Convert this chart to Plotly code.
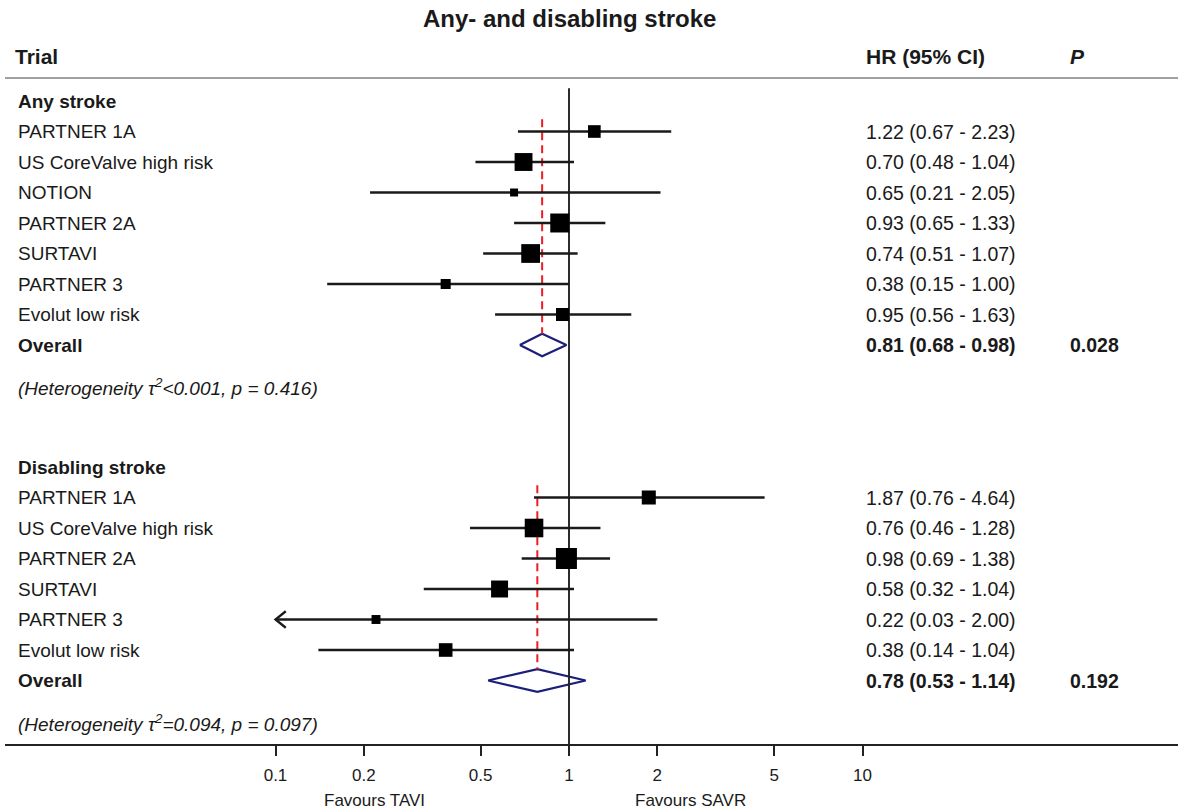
import math
import plotly.graph_objects as go

# ---------------- data ----------------
chart_title = "Any- and disabling stroke"

any_trials = ["PARTNER 1A", "US CoreValve high risk", "NOTION", "PARTNER 2A",
              "SURTAVI", "PARTNER 3", "Evolut low risk"]
any_hr = [1.22, 0.70, 0.65, 0.93, 0.74, 0.38, 0.95]
any_lo = [0.67, 0.48, 0.21, 0.65, 0.51, 0.15, 0.56]
any_hi = [2.23, 1.04, 2.05, 1.33, 1.07, 1.00, 1.63]
any_weight = [10.0, 20.0, 4.0, 22.5, 22.0, 6.3, 10.5]
any_overall = [0.81, 0.68, 0.98]
any_p = "0.028"
any_het = "(Heterogeneity τ<sup>2</sup>&lt;0.001, p = 0.416)"

dis_trials = ["PARTNER 1A", "US CoreValve high risk", "PARTNER 2A",
              "SURTAVI", "PARTNER 3", "Evolut low risk"]
dis_hr = [1.87, 0.76, 0.98, 0.58, 0.22, 0.38]
dis_lo = [0.76, 0.46, 0.69, 0.32, 0.03, 0.14]
dis_hi = [4.64, 1.28, 1.38, 1.04, 2.00, 1.04]
dis_weight = [12.3, 21.6, 27.6, 18.0, 5.0, 11.6]
dis_overall = [0.78, 0.53, 1.14]
dis_p = "0.192"
dis_het = "(Heterogeneity τ<sup>2</sup>=0.094, p = 0.097)"

sections = [
    ("Any stroke", any_trials, any_hr, any_lo, any_hi, any_weight, any_overall, any_p, any_het),
    ("Disabling stroke", dis_trials, dis_hr, dis_lo, dis_hi, dis_weight, dis_overall, dis_p, dis_het),
]

tick_vals = [0.1, 0.2, 0.5, 1, 2, 5, 10]
tick_text = ["0.1", "0.2", "0.5", "1", "2", "5", "10"]
left_label = "Favours TAVI"
right_label = "Favours SAVR"
col_headers = ["Trial", "HR (95% CI)", "<i>P</i>"]

# ---------------- style ----------------
FONT = "Liberation Sans, Arial, Helvetica, sans-serif"
TXT = "#1a1a1a"
LBL = 19
VAL = 19.5
HDR = 21
X_LABEL = 0.009
X_HR = 0.732
X_P = 0.906
CLIP_LO = 0.1
DIAMOND_H = 0.37
W, H = 1178, 811
ML, MB = 5, 66
plot_h = H - MB
row_px = 30.5
first_row_px = 101
y_top = -first_row_px / row_px
y_bot = (plot_h - first_row_px) / row_px
dec_px = 293.5
one_px = 569
x_range = [(ML - one_px) / dec_px, (W - one_px) / dec_px]

fig = go.Figure()
annotations = []
shapes = []

ci_x, ci_y = [], []
arrow_x, arrow_y = [], []
sq_x, sq_y, sq_s = [], [], []


def txt(x, y, text, size, xref="paper", yref="y", xanchor="left"):
    return dict(x=x, y=y, xref=xref, yref=yref, text=text, showarrow=False,
                xanchor=xanchor, yanchor="middle", font=dict(size=size, color=TXT))


row = 0
for (name, trials, hr, lo, hi, wt, ov, pval, het) in sections:
    header_row = row
    annotations.append(txt(X_LABEL, row, f"<b>{name}</b>", LBL))
    for i, t in enumerate(trials):
        r = header_row + 1 + i
        annotations.append(txt(X_LABEL, r, t, LBL))
        annotations.append(txt(X_HR, r, f"{hr[i]:.2f} ({lo[i]:.2f} - {hi[i]:.2f})", VAL))
        lo_c = max(lo[i], CLIP_LO)
        ci_x += [lo_c, hi[i], None]
        ci_y += [r, r, None]
        if lo[i] < CLIP_LO:
            k = 10 ** 0.035
            arrow_x += [lo_c * k, lo_c, lo_c * k, None]
            arrow_y += [r - 0.27, r, r + 0.27, None]
        sq_x.append(hr[i])
        sq_y.append(r)
        sq_s.append(4.0 * math.sqrt(wt[i]))
    ov_row = header_row + 1 + len(trials)
    annotations.append(txt(X_LABEL, ov_row, "<b>Overall</b>", LBL))
    annotations.append(txt(X_HR, ov_row, f"<b>{ov[0]:.2f} ({ov[1]:.2f} - {ov[2]:.2f})</b>", VAL))
    annotations.append(txt(X_P, ov_row, f"<b>{pval}</b>", VAL))
    annotations.append(txt(X_LABEL, ov_row + 1.38, f"<i>{het}</i>", 19))
    # diamond
    fig.add_trace(go.Scatter(x=[ov[1], ov[0], ov[2], ov[0], ov[1]],
                             y=[ov_row, ov_row - DIAMOND_H, ov_row, ov_row + DIAMOND_H, ov_row],
                             mode="lines", fill="toself", fillcolor="white",
                             line=dict(color="#1c1f7a", width=2.2), hoverinfo="skip"))
    # red dashed line at overall estimate
    fig.add_trace(go.Scatter(x=[ov[0], ov[0]], y=[header_row + 0.6, ov_row - DIAMOND_H],
                             mode="lines", line=dict(color="#ee1c25", width=2, dash="8px,5px"),
                             hoverinfo="skip"))
    row = ov_row + 4

# vertical line of no effect
fig.add_trace(go.Scatter(x=[1, 1], y=[-0.42, y_bot], mode="lines",
                         line=dict(color="#222222", width=1.9), hoverinfo="skip"))
# CI lines
fig.add_trace(go.Scatter(x=ci_x, y=ci_y, mode="lines",
                         line=dict(color="#1a1a1a", width=2.3), hoverinfo="skip"))
fig.add_trace(go.Scatter(x=arrow_x, y=arrow_y, mode="lines",
                         line=dict(color="#1a1a1a", width=2.3), hoverinfo="skip"))
# squares
fig.add_trace(go.Scatter(x=sq_x, y=sq_y, mode="markers", opacity=1,
                         marker=dict(symbol="square", size=sq_s, color="#000000", opacity=1,
                                     line=dict(width=0)),
                         hoverinfo="skip"))

# header line
shapes.append(dict(type="line", xref="paper", yref="y", x0=0, x1=1, y0=-0.755, y1=-0.755,
                   line=dict(color="#a0a0a0", width=2)))
# x-axis baseline across full width
shapes.append(dict(type="line", xref="paper", yref="paper", x0=0, x1=1, y0=0, y1=0,
                   line=dict(color="#222222", width=1.8)))

# column headers
hdr_row = -1.45
annotations.append(txt(X_LABEL - 0.002, hdr_row, f"<b>{col_headers[0]}</b>", HDR))
annotations.append(txt(X_HR, hdr_row, f"<b>{col_headers[1]}</b>", HDR))
annotations.append(txt(X_P, hdr_row, f"<b>{col_headers[2]}</b>", HDR))
# title
annotations.append(txt(0, -2.72, f"<b>{chart_title}</b>", 24, xref="x", xanchor="center"))
# favours labels
annotations.append(dict(x=0.3154, y=-55 / plot_h, xref="paper", yref="paper", text=left_label,
                        showarrow=False, xanchor="center", yanchor="middle", font=dict(size=17, color=TXT)))
annotations.append(dict(x=0.584, y=-55 / plot_h, xref="paper", yref="paper", text=right_label,
                        showarrow=False, xanchor="center", yanchor="middle", font=dict(size=17, color=TXT)))

fig.update_layout(
    width=W, height=H,
    margin=dict(l=ML, r=0, t=0, b=MB),
    paper_bgcolor="white", plot_bgcolor="white",
    showlegend=False,
    font=dict(family=FONT, color=TXT),
    annotations=annotations, shapes=shapes,
    xaxis=dict(type="log", range=x_range, showgrid=False, zeroline=False,
               showline=False,
               ticks="outside", ticklen=10, tickwidth=1.8, tickcolor="#222222",
               tickvals=tick_vals, ticktext=tick_text,
               tickfont=dict(size=17, color=TXT), ticklabelstandoff=5, fixedrange=True),
    yaxis=dict(range=[y_bot, y_top], visible=False, fixedrange=True),
)

fig.write_html("out.html")
